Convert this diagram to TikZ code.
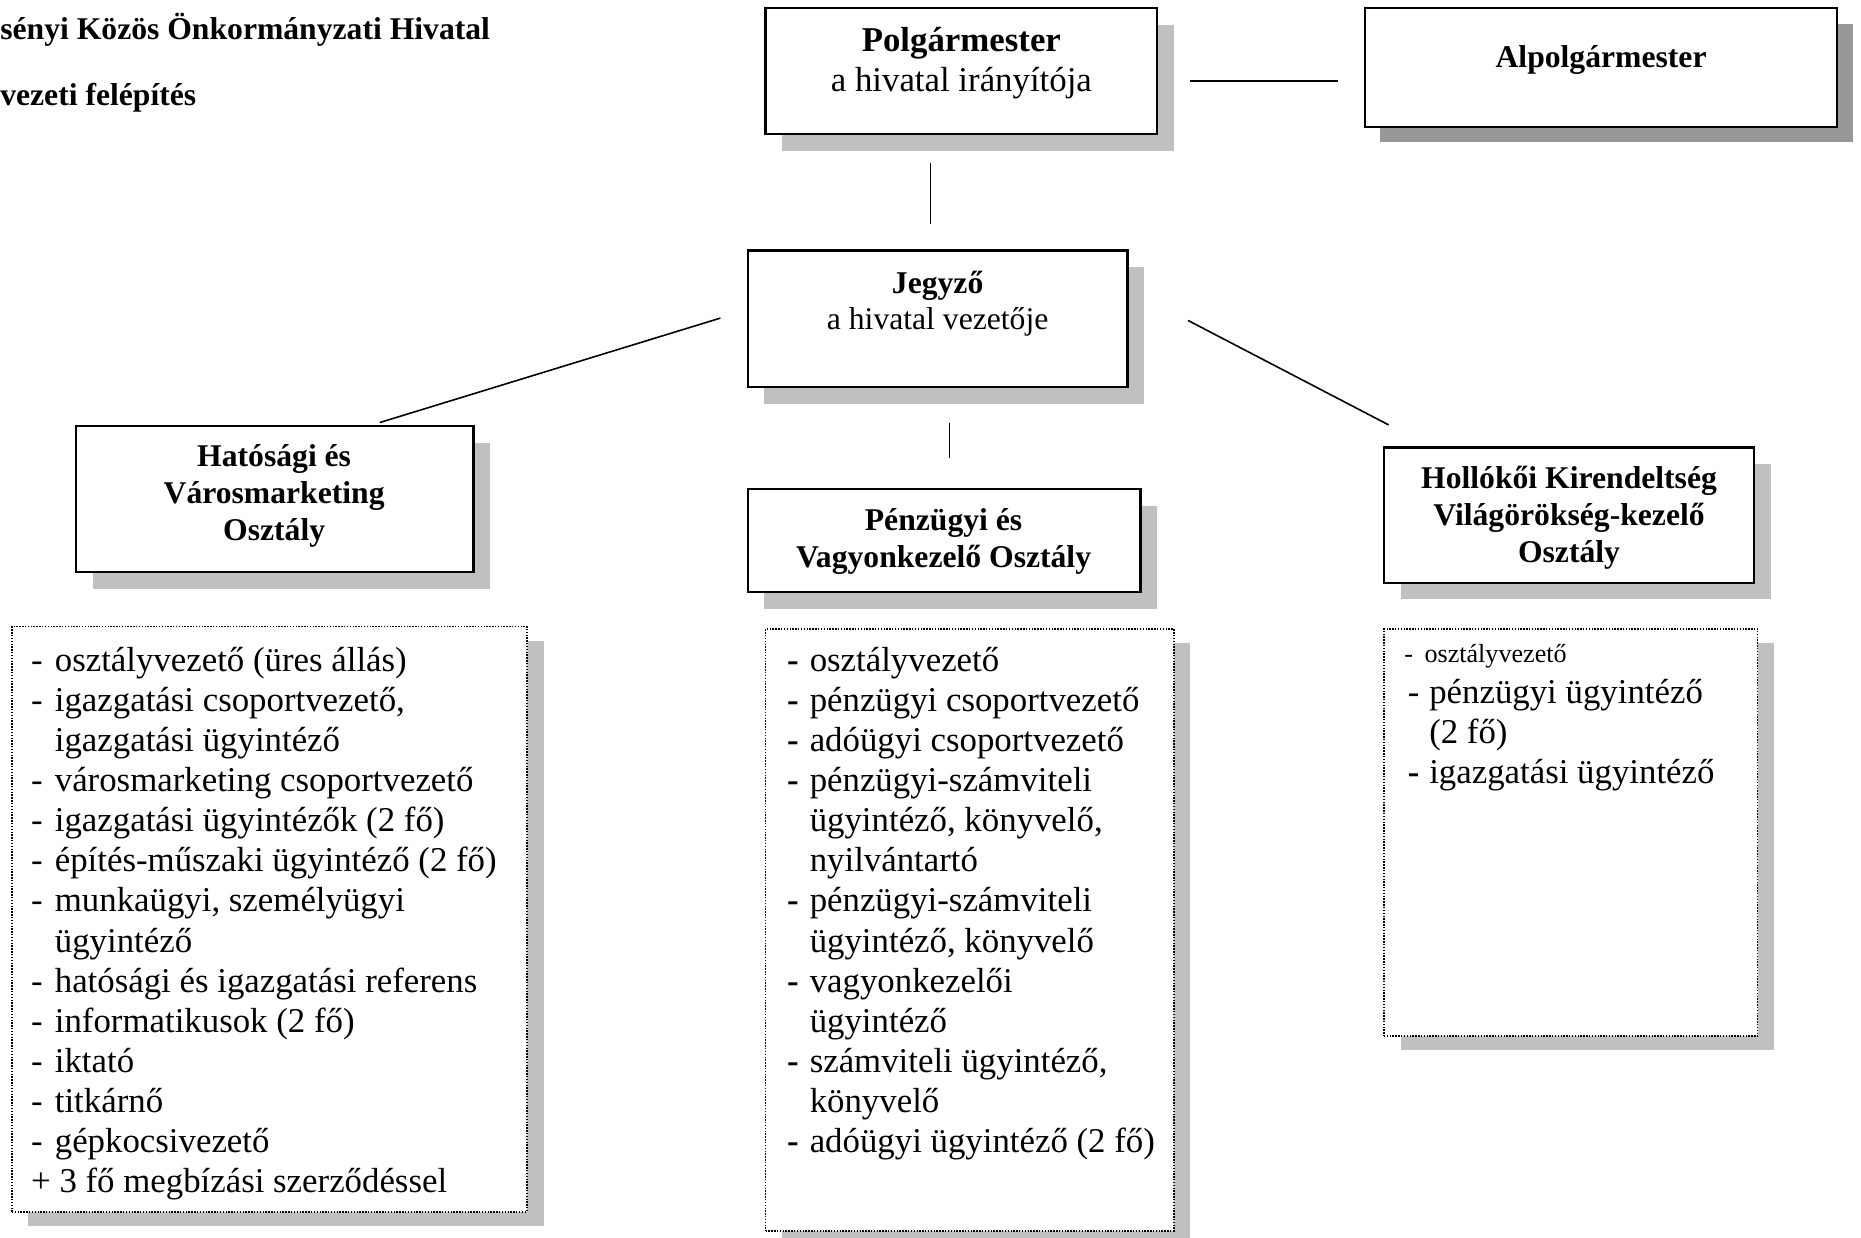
\documentclass[tikz,border=0pt]{standalone}
\usepackage{fontspec}
\setmainfont{Liberation Serif}
\usetikzlibrary{shadows}
\definecolor{shadelight}{HTML}{C0C0C0}
\definecolor{shadedark}{HTML}{989898}
\newcommand\mytabc[1]{\begin{tabular}[t]{@{}c@{}}#1\end{tabular}}
\newcommand\mytabl[1]{\begin{tabular}[t]{@{}l@{}l@{}}#1\end{tabular}}
\tikzset{
  headbox/.style={draw=black, line width=1.4pt, fill=white, inner sep=0pt,
    general shadow={fill=shadelight, draw=none, shadow xshift=10.5pt, shadow yshift=-10.5pt}},
  headboxdark/.style={draw=black, line width=1.4pt, fill=white, inner sep=0pt,
    general shadow={fill=shadedark, draw=none, shadow xshift=9.75pt, shadow yshift=-9.75pt}},
  listbox/.style={draw=black, line width=0.9pt, dash pattern=on 0.9pt off 0.9pt, fill=white, inner sep=0pt,
    general shadow={fill=shadelight, draw=none, solid, shadow xshift=10.5pt, shadow yshift=-9pt}},
  big/.style={inner sep=0pt, font=\fontsize{22pt}{25.5pt}\selectfont},
  bighead/.style={inner sep=0pt, font=\fontsize{20pt}{23.25pt}\selectfont\bfseries},
  midtext/.style={inner sep=0pt, font=\fontsize{20pt}{23.25pt}\selectfont},
  listtext/.style={inner sep=0pt, anchor=base west, font=\fontsize{22pt}{25.3pt}\selectfont},
  smalltext/.style={inner sep=0pt, anchor=base west, font=\fontsize{16.5pt}{19pt}\selectfont},
  conn/.style={draw=black, line width=1pt},
}
\begin{document}
\begin{tikzpicture}[x=0.75pt,y=-0.75pt]
\useasboundingbox (0,0) rectangle (1568,1043);

% title
\node[bighead, anchor=base west] (title1) at (0,33) {sényi Közös Önkormányzati Hivatal};
\node[bighead, anchor=base west] (title2) at (0,89) {vezeti felépítés};

% heading boxes
\node[headbox, minimum width=247.5pt, minimum height=79.5pt] (polg) at (810,60) {};
\node[big, anchor=base] (polgt) at (810,43) {\mytabc{\textbf{Polgármester}\\a hivatal irányítója}};

\node[headboxdark, minimum width=298.5pt, minimum height=75pt] (alpol) at (1349,57) {};
\node[bighead, anchor=base] (alpolt) at (1349,57) {Alpolgármester};

\node[headbox, minimum width=240pt, minimum height=86.25pt] (jegy) at (790,268.5) {};
\node[midtext, anchor=base] (jegyt) at (790,247) {\mytabc{\textbf{Jegyző}\\a hivatal vezetője}};

\node[headbox, minimum width=251.25pt, minimum height=92.25pt] (hat) at (231.5,420.5) {};
\node[bighead, anchor=base] (hatt) at (231,393) {\mytabc{Hatósági és\\Városmarketing\\Osztály}};

\node[headbox, minimum width=248.25pt, minimum height=65.25pt] (penz) at (795.5,455.5) {};
\node[bighead, anchor=base] (penzt) at (795,447) {\mytabc{Pénzügyi és\\Vagyonkezelő Osztály}};

\node[headbox, minimum width=234pt, minimum height=85.5pt] (holl) at (1322,434) {};
\node[bighead, anchor=base] (hollt) at (1322,412) {\mytabc{Hollókői Kirendeltség\\Világörökség-kezelő\\Osztály}};

% list boxes
\node[listbox, minimum width=325.5pt, minimum height=369.75pt] (listL) at (227,774.5) {};
\node[listbox, minimum width=258pt, minimum height=380.25pt] (listM) at (817,783.5) {};
\node[listbox, minimum width=236.25pt, minimum height=257.25pt] (listR) at (1323.5,701.5) {};

\node[listtext] (listLt) at (26,566) {\mytabl{%
\makebox[15pt][l]{-} & osztályvezető (üres állás)\\
\makebox[15pt][l]{-} & igazgatási csoportvezető,\\
 & igazgatási ügyintéző\\
\makebox[15pt][l]{-} & városmarketing csoportvezető\\
\makebox[15pt][l]{-} & igazgatási ügyintézők (2 fő)\\
\makebox[15pt][l]{-} & építés-műszaki ügyintéző (2 fő)\\
\makebox[15pt][l]{-} & munkaügyi, személyügyi\\
 & ügyintéző\\
\makebox[15pt][l]{-} & hatósági és igazgatási referens\\
\makebox[15pt][l]{-} & informatikusok (2 fő)\\
\makebox[15pt][l]{-} & iktató\\
\makebox[15pt][l]{-} & titkárnő\\
\makebox[15pt][l]{-} & gépkocsivezető\\
\multicolumn{2}{@{}l@{}}{+ 3 fő megbízási szerződéssel}}};

\node[listtext] (listMt) at (663,566) {\mytabl{%
\makebox[14.25pt][l]{\textbf{-}} & osztályvezető\\
\makebox[14.25pt][l]{\textbf{-}} & pénzügyi csoportvezető\\
\makebox[14.25pt][l]{\textbf{-}} & adóügyi csoportvezető\\
\makebox[14.25pt][l]{\textbf{-}} & pénzügyi-számviteli\\
 & ügyintéző, könyvelő,\\
 & nyilvántartó\\
\makebox[14.25pt][l]{\textbf{-}} & pénzügyi-számviteli\\
 & ügyintéző, könyvelő\\
\makebox[14.25pt][l]{\textbf{-}} & vagyonkezelői\\
 & ügyintéző\\
\makebox[14.25pt][l]{\textbf{-}} & számviteli ügyintéző,\\
 & könyvelő\\
\makebox[14.25pt][l]{\textbf{-}} & adóügyi ügyintéző (2 fő)}};

\node[smalltext] (listRt1) at (1183,558) {\makebox[12.75pt][l]{-}osztályvezető};
\node[listtext] (listRt2) at (1186,593) {\mytabl{%
\makebox[13.5pt][l]{-} & pénzügyi ügyintéző\\
 & (2 fő)\\
\makebox[13.5pt][l]{\textbf{-}} & igazgatási ügyintéző}};

% connectors (free-standing short lines)
\coordinate (c1a) at (1003,68);  \coordinate (c1b) at (1127,68);
\coordinate (c2a) at (784,137);  \coordinate (c2b) at (784,189);
\coordinate (c3a) at (607,268);  \coordinate (c3b) at (320,356);
\coordinate (c4a) at (1001,270); \coordinate (c4b) at (1170,358);
\coordinate (c5a) at (800,356);  \coordinate (c5b) at (800,386);
\draw[conn] (c1a) -- (c1b);
\draw[conn] (c2a) -- (c2b);
\draw[conn] (c3a) -- (c3b);
\draw[conn] (c4a) -- (c4b);
\draw[conn] (c5a) -- (c5b);
\end{tikzpicture}
\end{document}
